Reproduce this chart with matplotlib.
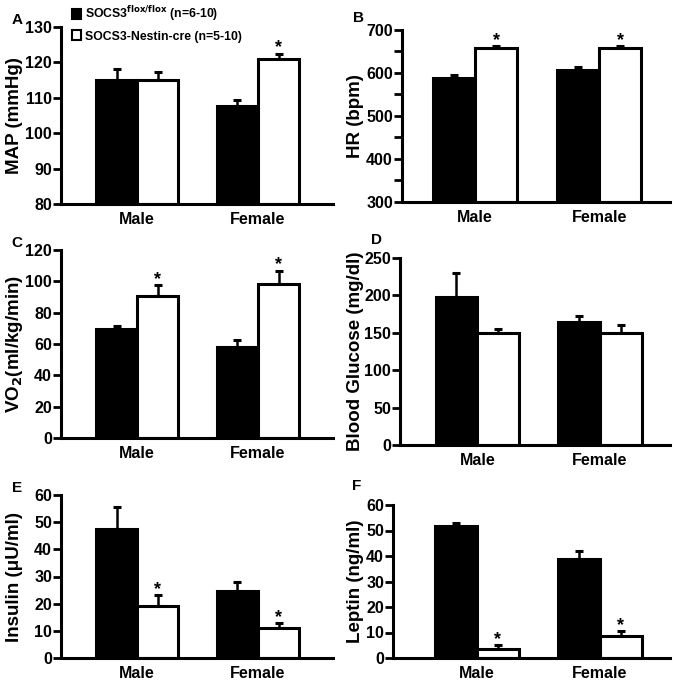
import matplotlib
matplotlib.use("Agg")
import matplotlib.pyplot as plt
from matplotlib.patches import Patch
import numpy as np

plt.rcParams['font.family'] = ['Liberation Sans', 'DejaVu Sans']
plt.rcParams['font.weight'] = 'bold'

groups = ["Male", "Female"]
series = ["SOCS3$^{\\mathbf{flox/flox}}$ (n=6-10)", "SOCS3-Nestin-cre (n=5-10)"]

map_flox = [115.0, 107.6]
map_flox_err = [3.1, 1.7]
map_cre = [115.0, 121.1]
map_cre_err = [2.3, 1.4]

hr_flox = [589, 606]
hr_flox_err = [7, 7]
hr_cre = [657, 657]
hr_cre_err = [6, 6]

vo2_flox = [69.5, 58.4]
vo2_flox_err = [2.3, 4.3]
vo2_cre = [90.9, 98.3]
vo2_cre_err = [6.8, 8.5]

glu_flox = [197.3, 163.8]
glu_flox_err = [32.2, 9.0]
glu_cre = [149.6, 149.6]
glu_cre_err = [5.8, 10.2]

ins_flox = [47.5, 24.7]
ins_flox_err = [8.0, 3.3]
ins_cre = [19.2, 11.2]
ins_cre_err = [3.9, 1.5]

lep_flox = [51.8, 39.0]
lep_flox_err = [1.3, 3.1]
lep_cre = [3.5, 8.7]
lep_cre_err = [1.5, 1.7]

panels = [
    dict(letter="A", ylabel="MAP (mmHg)", flox=map_flox, fe=map_flox_err, cre=map_cre, ce=map_cre_err,
         ylim=(80, 130), major=10, minor=None, star=[False, True]),
    dict(letter="B", ylabel="HR (bpm)", flox=hr_flox, fe=hr_flox_err, cre=hr_cre, ce=hr_cre_err,
         ylim=(300, 700), major=100, minor=50, star=[True, True]),
    dict(letter="C", ylabel="VO$_\\mathbf{2}$(ml/kg/min)", flox=vo2_flox, fe=vo2_flox_err, cre=vo2_cre, ce=vo2_cre_err,
         ylim=(0, 120), major=20, minor=None, star=[True, True]),
    dict(letter="D", ylabel="Blood Glucose (mg/dl)", flox=glu_flox, fe=glu_flox_err, cre=glu_cre, ce=glu_cre_err,
         ylim=(0, 250), major=50, minor=None, star=[False, False]),
    dict(letter="E", ylabel="Insulin (\u03bcU/ml)", flox=ins_flox, fe=ins_flox_err, cre=ins_cre, ce=ins_cre_err,
         ylim=(0, 60), major=10, minor=None, star=[True, True]),
    dict(letter="F", ylabel="Leptin (ng/ml)", flox=lep_flox, fe=lep_flox_err, cre=lep_cre, ce=lep_cre_err,
         ylim=(0, 60), major=10, minor=None, star=[True, True]),
]

W, H = 677, 685
# axes boxes in pixels: left, right, top, bottom
boxes = [
    (61, 333, 27, 204),
    (402, 670, 30, 202),
    (61, 333, 250, 438),
    (400, 670, 258, 445),
    (61, 333, 495, 658),
    (393, 670, 505, 658),
]
xlims = [(0.37, 2.62), (0.41, 2.57), (0.37, 2.62), (0.37, 2.57), (0.37, 2.62), (0.32, 2.57)]
letter_pos = [(17, 20), (358, 18), (17, 243), (376, 240), (17, 488), (357, 486)]
ylabel_x = [15, 355, 15, 355, 15, 355]

fig = plt.figure(figsize=(W / 100, H / 100), dpi=100)
lw = 2.2
bw = 0.34
x = np.arange(1, len(groups) + 1)

for p, (l, r, t, b), xl, lp, ylx in zip(panels, boxes, xlims, letter_pos, ylabel_x):
    ax = fig.add_axes([l / W, 1 - b / H, (r - l) / W, (b - t) / H])
    xf = x - bw / 2
    xc = x + bw / 2
    ax.errorbar(xf, p["flox"], yerr=[np.zeros(2), p["fe"]], fmt="none", ecolor="black",
                elinewidth=1.8, capsize=2.6, capthick=2.2, zorder=1, clip_on=False)
    ax.errorbar(xc, p["cre"], yerr=[np.zeros(2), p["ce"]], fmt="none", ecolor="black",
                elinewidth=1.8, capsize=2.6, capthick=2.2, zorder=1, clip_on=False)
    ax.bar(xf, np.array(p["flox"]) - p["ylim"][0], bottom=p["ylim"][0], width=bw, color="black",
           edgecolor="black", linewidth=lw, zorder=2)
    ax.bar(xc, np.array(p["cre"]) - p["ylim"][0], bottom=p["ylim"][0], width=bw, color="white",
           edgecolor="black", linewidth=lw, zorder=2)
    for i, s in enumerate(p["star"]):
        if s:
            ax.annotate("*", (xc[i], p["cre"][i] + p["ce"][i]), xytext=(0, -2), textcoords="offset points",
                        ha="center", va="bottom", fontsize=13, fontweight="bold")
    ax.set_xlim(*xl)
    ax.set_ylim(*p["ylim"])
    ax.set_yticks(np.arange(p["ylim"][0], p["ylim"][1] + 0.1, p["major"]))
    if p["minor"]:
        ax.set_yticks(np.arange(p["ylim"][0], p["ylim"][1] + 0.1, p["minor"]), minor=True)
    ax.set_xticks(x)
    ax.set_xticklabels(groups, fontsize=11.5, fontweight="bold")
    ax.tick_params(axis="x", length=0, pad=6)
    ax.tick_params(axis="y", which="both", length=6, width=2, labelsize=11.5, pad=0.5)
    for lab in ax.get_yticklabels():
        lab.set_fontweight("bold")
    for side in ("top", "right"):
        ax.spines[side].set_visible(False)
    for side in ("left", "bottom"):
        ax.spines[side].set_linewidth(2.2)
    ax.set_ylabel(p["ylabel"], fontsize=13.5, fontweight="bold", va="center")
    ax.yaxis.set_label_coords((ylx - l) / (r - l), 0.5)
    fig.text(lp[0] / W, 1 - lp[1] / H, p["letter"], fontsize=11, fontweight="bold", ha="center", va="center")

handles = [Patch(facecolor="black", edgecolor="black", linewidth=1.5),
           Patch(facecolor="white", edgecolor="black", linewidth=1.5)]
fig.legend(handles, series, loc="upper left", bbox_to_anchor=(72 / W, 1 - 4 / H), frameon=False,
           handlelength=0.75, handleheight=0.9, handletextpad=0.3, labelspacing=0.6,
           borderpad=0, borderaxespad=0, prop={"weight": "bold", "size": 8.8})

fig.savefig("out.png", dpi=100)
